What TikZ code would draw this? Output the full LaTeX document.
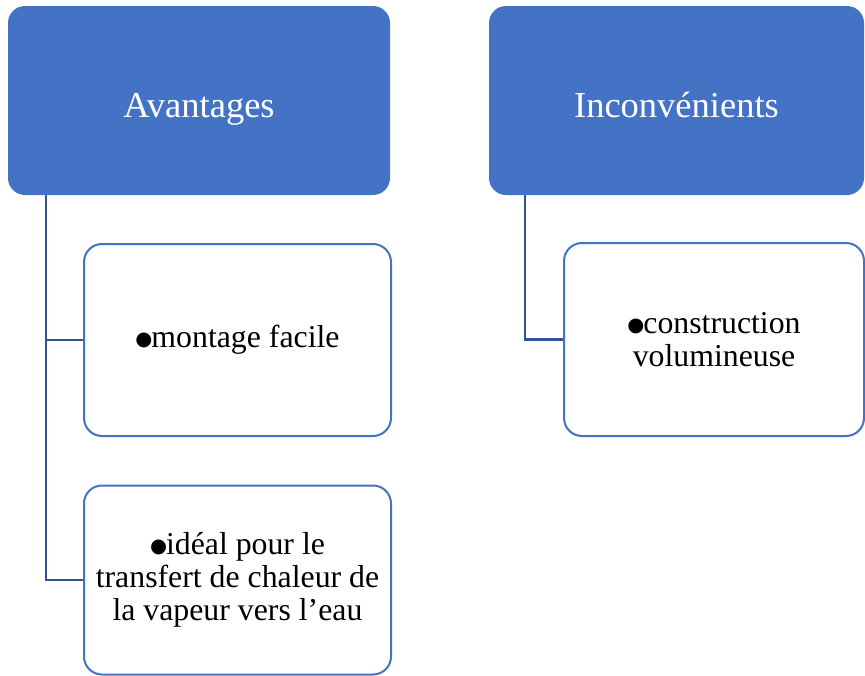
\documentclass[tikz,border=0pt]{standalone}
\usepackage{fontspec}
\setmainfont{Liberation Serif}
\newfontfamily\dotfont{DejaVu Sans}
\usepackage{tikz}

\definecolor{headblue}{HTML}{4472C4}
\definecolor{linkblue}{HTML}{2F5597}
\newcommand{\bul}{\raisebox{2.5pt}{\dotfont\fontsize{19.5}{19.5}\selectfont ●}\kern-1pt}

\begin{document}
\begin{tikzpicture}[x=1pt,y=-1pt,
		head/.style={draw=none, fill=headblue, rounded corners=17pt, text=white, align=center, text height=35pt, text depth=2pt, font=\fontsize{36.5}{39}\selectfont},
		item/.style={draw=headblue, line width=2pt, fill=white, rounded corners=18pt, align=center, font=\fontsize{31.8}{32.7}\selectfont},
		link/.style={draw=linkblue, line width=2.5pt}]
				\useasboundingbox (0,0) rectangle (865,675);
				\node (head1) [head, minimum width=382pt, minimum height=189pt] at (199,100.5) {Avantages};
				\node (head2) [head, minimum width=375pt, minimum height=189pt] at (676.5,100.5) {Inconvénients};
				\node (box1) [item, minimum width=307pt, minimum height=192pt] at (237.5,340) {\bul montage facile};
				\node (box2) [item, minimum width=307pt, minimum height=189pt] at (237.5,580) {\bul idéal pour le\\transfert de chaleur de\\la vapeur vers l’eau};
				\node (box3) [item, minimum width=300pt, minimum height=193pt] at (714,339.5) {\bul construction\\volumineuse};
				
				% Links
				\coordinate (top1) at (46,195);
				\coordinate (top2) at (525,195);
				\draw[link] (top1) |- (box1.west);
				\draw[link] (top1) |- (box2.west);
				\draw[link] (top2) |- (box3.west);
			\end{tikzpicture}
\end{document}
